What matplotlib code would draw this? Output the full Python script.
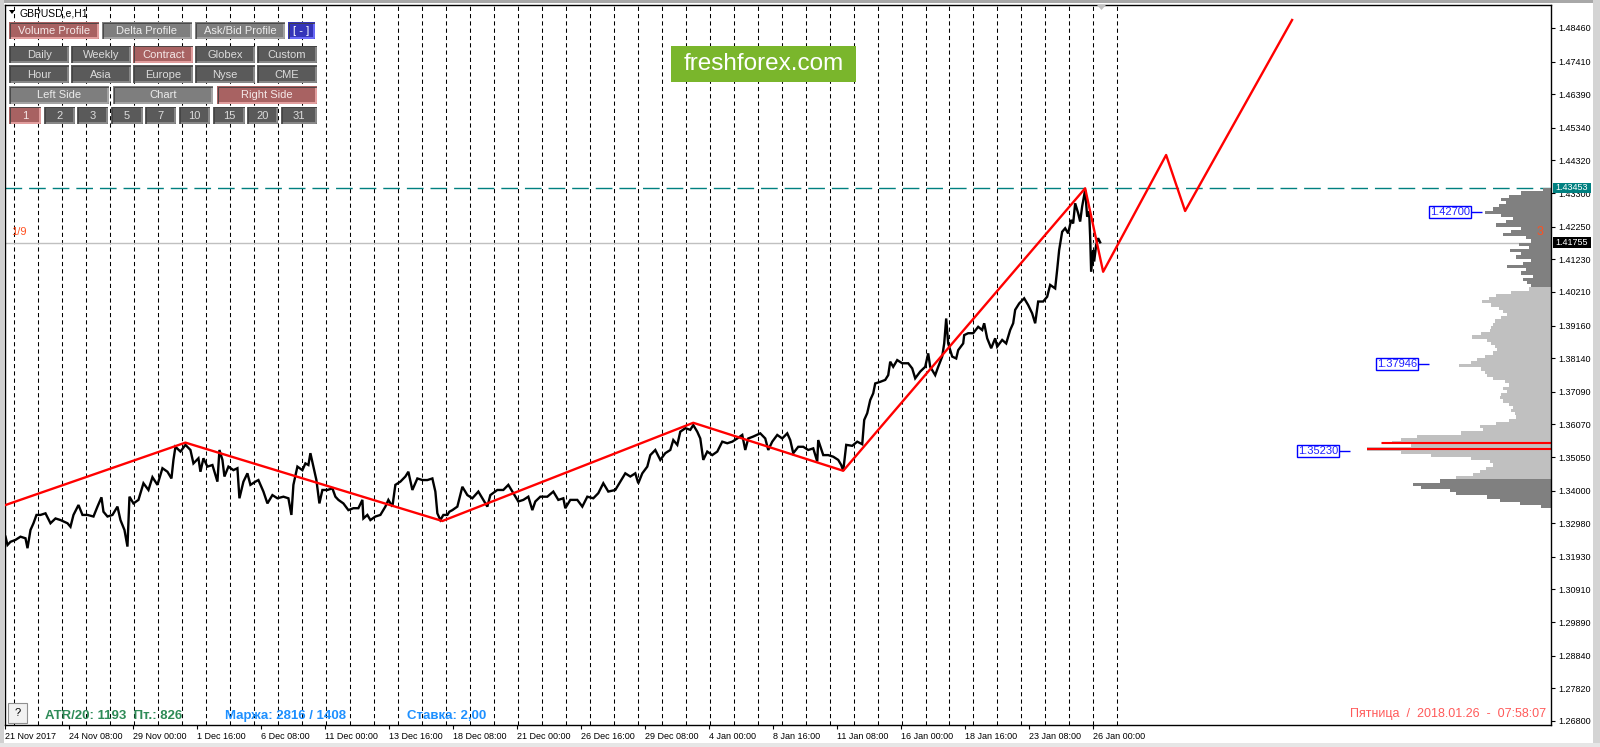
import matplotlib
matplotlib.use('Agg')
import matplotlib.pyplot as plt
from matplotlib.patches import Rectangle, Polygon

plt.rcParams['font.family'] = ['Liberation Sans', 'DejaVu Sans']

# ---------------- data ----------------
symbol = "GBPUSD,e,H1"

# hourly close path (bar index, price)
price_path = [
    (5, 1.3256), (7, 1.3230), (10, 1.3240), (15, 1.3246), (20, 1.3256), (25, 1.3251), (27, 1.3220),
    (30, 1.3277), (33, 1.3298), (36, 1.3324), (40, 1.3324), (45, 1.3329), (50, 1.3298), (55, 1.3313),
    (60, 1.3308), (67, 1.3298), (70, 1.3287), (73, 1.3324), (78, 1.3355), (82, 1.3324), (87, 1.3324),
    (93, 1.3319), (97, 1.3350), (101, 1.3379), (103, 1.3334), (107, 1.3319), (112, 1.3324), (117, 1.3350),
    (120, 1.3308), (124, 1.3277), (127, 1.3225), (129, 1.3381), (133, 1.3360), (138, 1.3371), (143, 1.3423),
    (148, 1.3402), (152, 1.3442), (157, 1.3418), (162, 1.3470), (167, 1.3459), (171, 1.3438), (173, 1.3496),
    (175, 1.3537), (180, 1.3522), (185, 1.3543), (190, 1.3527), (193, 1.3485), (198, 1.3501), (200, 1.3459),
    (203, 1.3501), (207, 1.3475), (212, 1.3480), (217, 1.3428), (219, 1.3527), (222, 1.3496), (224, 1.3444),
    (228, 1.3475), (233, 1.3464), (237, 1.3470), (239, 1.3376), (243, 1.3428), (247, 1.3454), (250, 1.3418),
    (255, 1.3428), (258, 1.3433), (263, 1.3397), (267, 1.3360), (272, 1.3386), (277, 1.3376), (283, 1.3381),
    (288, 1.3376), (291, 1.3324), (293, 1.3418), (297, 1.3475), (302, 1.3464), (305, 1.3485), (308, 1.3480),
    (310, 1.3517), (313, 1.3475), (316, 1.3433), (319, 1.3360), (322, 1.3402), (327, 1.3402), (332, 1.3407),
    (335, 1.3381), (338, 1.3371), (343, 1.3360), (348, 1.3339), (353, 1.3345), (358, 1.3345), (362, 1.3371),
    (363, 1.3313), (367, 1.3324), (370, 1.3308), (375, 1.3319), (380, 1.3324), (385, 1.3350), (388, 1.3371),
    (392, 1.3350), (395, 1.3418), (400, 1.3428), (405, 1.3444), (408, 1.3459), (412, 1.3402), (417, 1.3438),
    (422, 1.3433), (427, 1.3433), (432, 1.3438), (435, 1.3397), (437, 1.3329), (440, 1.3308), (443, 1.3324),
    (447, 1.3324), (449, 1.3334), (452, 1.3339), (457, 1.3350), (462, 1.3412), (467, 1.3386), (472, 1.3376),
    (478, 1.3397), (483, 1.3371), (487, 1.3350), (490, 1.3386), (497, 1.3402), (503, 1.3402), (508, 1.3418),
    (513, 1.3392), (518, 1.3366), (523, 1.3371), (528, 1.3381), (532, 1.3339), (535, 1.3366), (540, 1.3381),
    (547, 1.3381), (553, 1.3397), (558, 1.3371), (563, 1.3376), (565, 1.3345), (570, 1.3371), (577, 1.3371),
    (582, 1.3350), (587, 1.3381), (593, 1.3376), (598, 1.3392), (603, 1.3423), (608, 1.3397), (615, 1.3402),
    (620, 1.3428), (625, 1.3454), (630, 1.3444), (635, 1.3454), (638, 1.3423), (642, 1.3454), (647, 1.3475),
    (650, 1.3511), (655, 1.3527), (660, 1.3496), (665, 1.3517), (670, 1.3527), (673, 1.3558), (677, 1.3543),
    (680, 1.3584), (685, 1.3595), (690, 1.3590), (693, 1.3605), (697, 1.3584), (700, 1.3563), (703, 1.3496),
    (707, 1.3522), (712, 1.3511), (717, 1.3522), (722, 1.3553), (727, 1.3548), (732, 1.3553), (737, 1.3563),
    (742, 1.3574), (745, 1.3527), (748, 1.3563), (753, 1.3569), (760, 1.3579), (765, 1.3563), (768, 1.3527),
    (772, 1.3553), (777, 1.3574), (782, 1.3563), (787, 1.3579), (790, 1.3558), (793, 1.3517), (798, 1.3537),
    (803, 1.3537), (808, 1.3527), (813, 1.3532), (817, 1.3491), (818, 1.3558), (823, 1.3511), (828, 1.3511),
    (833, 1.3506), (838, 1.3496), (841, 1.3480), (843, 1.3462), (846, 1.3543), (852, 1.3540), (857, 1.3553),
    (862, 1.3545), (864, 1.3621), (867, 1.3642), (870, 1.3683), (873, 1.3704), (875, 1.3735), (880, 1.3740),
    (885, 1.3746), (888, 1.3761), (890, 1.3803), (893, 1.3787), (897, 1.3808), (902, 1.3798), (908, 1.3798),
    (912, 1.3782), (915, 1.3751), (920, 1.3772), (925, 1.3787), (928, 1.3829), (930, 1.3787), (935, 1.3761),
    (938, 1.3787), (942, 1.3819), (944, 1.3860), (946, 1.3938), (948, 1.3860), (952, 1.3819), (956, 1.3813),
    (958, 1.3839), (963, 1.3860), (964, 1.3886), (968, 1.3892), (973, 1.3892), (978, 1.3912), (982, 1.3902),
    (984, 1.3923), (987, 1.3876), (991, 1.3845), (995, 1.3876), (997, 1.3850), (1002, 1.3871), (1006, 1.3860),
    (1010, 1.3902), (1013, 1.3923), (1015, 1.3965), (1019, 1.3985), (1024, 1.4001), (1028, 1.3980),
    (1032, 1.3954), (1035, 1.3923), (1038, 1.3991), (1043, 1.3991), (1047, 1.4006), (1050, 1.4043),
    (1055, 1.4032), (1057, 1.4090), (1059, 1.4152), (1062, 1.4209), (1065, 1.4220), (1068, 1.4204),
    (1071, 1.4246), (1073, 1.4235), (1075, 1.4298), (1078, 1.4267), (1080, 1.4241), (1082, 1.4288),
    (1085, 1.4340), (1087, 1.4256), (1089, 1.4272), (1090, 1.4194), (1091, 1.4084), (1093, 1.4152),
    (1094, 1.4116), (1096, 1.4168), (1098, 1.4189), (1100, 1.4176),
]

# red zig-zag forecast (bar index, price)
zigzag_bar = [5, 185, 442, 693, 843, 1085, 1103, 1166, 1185, 1292]
zigzag_price = [1.3355, 1.3550, 1.3305, 1.3612, 1.3462, 1.4345, 1.4084, 1.4449, 1.4274, 1.4871]

resistance_level = 1.43453
current_price = 1.41755

# volume profile (price bin, relative volume in bar widths)
profile = [
    (1.4340, 8), (1.4330, 30), (1.4320, 42), (1.4310, 50), (1.4300, 45), (1.4290, 52), (1.4280, 58),
    (1.4270, 66), (1.4260, 50), (1.4250, 38), (1.4240, 45), (1.4230, 55), (1.4220, 30), (1.4210, 40),
    (1.4200, 48), (1.4190, 25), (1.4180, 20), (1.4170, 32), (1.4160, 22), (1.4150, 41), (1.4140, 30),
    (1.4130, 35), (1.4120, 20), (1.4110, 28), (1.4100, 44), (1.4090, 25), (1.4080, 30), (1.4070, 18),
    (1.4060, 28), (1.4050, 24), (1.4040, 20), (1.4030, 22), (1.4020, 40), (1.4010, 55), (1.4000, 62),
    (1.3990, 69), (1.3980, 60), (1.3970, 52), (1.3960, 48), (1.3950, 44), (1.3940, 50), (1.3930, 56),
    (1.3920, 58), (1.3910, 60), (1.3900, 61), (1.3890, 70), (1.3880, 79), (1.3870, 64), (1.3860, 60),
    (1.3850, 56), (1.3840, 54), (1.3830, 58), (1.3820, 66), (1.3810, 74), (1.3800, 80), (1.3790, 92),
    (1.3780, 70), (1.3770, 66), (1.3760, 64), (1.3750, 58), (1.3740, 46), (1.3730, 42), (1.3720, 48),
    (1.3710, 44), (1.3700, 50), (1.3690, 51), (1.3680, 48), (1.3670, 42), (1.3660, 38), (1.3650, 40),
    (1.3640, 36), (1.3630, 35), (1.3620, 42), (1.3610, 55), (1.3600, 71), (1.3590, 68), (1.3580, 90),
    (1.3570, 134), (1.3560, 150), (1.3550, 159), (1.3540, 140), (1.3530, 184), (1.3520, 150), (1.3510, 120),
    (1.3500, 80), (1.3490, 61), (1.3480, 58), (1.3470, 65), (1.3460, 71), (1.3450, 78), (1.3440, 95),
    (1.3430, 111), (1.3420, 138), (1.3410, 130), (1.3400, 101), (1.3390, 95), (1.3380, 64), (1.3370, 51),
    (1.3360, 31), (1.3350, 10),
]
value_area_low = 1.3435
value_area_high = 1.4031
poc_price = 1.3530
poc2_price = 1.3550
profile_levels = [1.42700, 1.37946, 1.35230]

y_ticks = [1.26800, 1.27820, 1.28840, 1.29890, 1.30910, 1.31930, 1.32980, 1.34000, 1.35050, 1.36070,
           1.37090, 1.38140, 1.39160, 1.40210, 1.41230, 1.42250, 1.43300, 1.44320, 1.45340, 1.46390,
           1.47410, 1.48460]
x_labels = ["21 Nov 2017", "24 Nov 08:00", "29 Nov 00:00", "1 Dec 16:00", "6 Dec 08:00", "11 Dec 00:00",
            "13 Dec 16:00", "18 Dec 08:00", "21 Dec 00:00", "26 Dec 16:00", "29 Dec 08:00", "4 Jan 00:00",
            "8 Jan 16:00", "11 Jan 08:00", "16 Jan 00:00", "18 Jan 16:00", "23 Jan 08:00", "26 Jan 00:00"]
n_days = 47

atr_text = "ATR/20: 1193  Пт.: 826"
margin_text = "Маржа: 2816 / 1408"
rate_text = "Ставка: 2,00"
clock_text = "Пятница  /  2018.01.26  -  07:58:07"

# ---------------- figure ----------------
W, H = 1600, 747
fig = plt.figure(figsize=(16, 7.47), dpi=100)
fig.patch.set_facecolor('white')


def fbox(x0, y0, x1, y1):
    return [x0 / W, 1 - y1 / H, (x1 - x0) / W, (y1 - y0) / H]


X_LEFT, X_RIGHT = 5, 1551
ax = fig.add_axes(fbox(X_LEFT, 4.5, X_RIGHT, 725))
ax.set_xlim(X_LEFT, X_RIGHT)
ax.set_ylim(1.26674, 1.49194)
ax.set_facecolor('white')
for s in ax.spines.values():
    s.set_color('black')
    s.set_linewidth(1)

ax.yaxis.tick_right()
ax.set_yticks(y_ticks)
ax.set_yticklabels([f"{v:.5f}" for v in y_ticks])
ax.tick_params(axis='y', direction='out', length=3, width=0.8, labelsize=6.5, pad=2, colors='black')
x_tick_pos = [4.5 + 64 * k for k in range(len(x_labels))]
ax.set_xticks(x_tick_pos)
ax.set_xticklabels(x_labels)
ax.tick_params(axis='x', direction='out', length=3, width=0.8, labelsize=6.5, pad=2, colors='black')
for t in ax.get_xticklabels():
    t.set_horizontalalignment('left')

# day separators
for k in range(n_days):
    ax.axvline(13.3 + 24 * k, color='black', lw=0.75, ls=(0, (4, 3)), zorder=1)

ax.axhline(current_price, color='#c0c0c0', lw=1, zorder=1.5)
ax.axhline(resistance_level, color='#008080', lw=1, ls=(0, (12, 5)), zorder=1.6)

# volume profile
pp = [p for p, v in profile]
pv = [v for p, v in profile]
cols = ['#c0c0c0' if value_area_low <= p <= value_area_high else '#808080' for p in pp]
ax.barh(pp, pv, left=[X_RIGHT - v for v in pv], height=0.0010, color=cols, linewidth=0, zorder=2)
poc_w = dict(profile)
ax.hlines(poc_price, X_RIGHT - poc_w[poc_price], X_RIGHT, color='red', lw=1.5, zorder=2.5)
ax.hlines([poc2_price - 0.00018, poc2_price + 0.00018], X_RIGHT - 170, X_RIGHT, color='red', lw=0.8, zorder=2.5)

# profile level labels
level_box_x = [1450, 1397, 1318]
for lv, bx in zip(profile_levels, level_box_x):
    ax.hlines(lv, bx + 21, bx + 32, color='blue', lw=1, zorder=5)
    ax.text(bx, lv, f"{lv:.5f}", color='#2020ff', fontsize=8, ha='center', va='center', zorder=6,
            bbox=dict(boxstyle='square,pad=0.1', fc='white', ec='blue', lw=1))

# price and zigzag
bx_ = [b for b, p in price_path]
py_ = [p for b, p in price_path]
ax.plot(bx_, py_, color='black', lw=1.7, zorder=3, solid_joinstyle='miter')
ax.plot(zigzag_bar, zigzag_price, color='red', lw=1.7, zorder=4)

# ---------------- overlay (terminal chrome) ----------------
ov = fig.add_axes([0, 0, 1, 1], zorder=10)
ov.set_xlim(0, W)
ov.set_ylim(H, 0)
ov.axis('off')
ov.patch.set_alpha(0)

# window frame
ov.add_patch(Rectangle((0, 0), W, 3, fc='#a8a8a8', ec='none'))
ov.add_patch(Rectangle((0, 0), 4, H, fc='#d0d0d0', ec='none'))
ov.add_patch(Rectangle((1593, 0), 7, H, fc='#d4d4d4', ec='none'))
ov.add_patch(Rectangle((0, 743), W, 4, fc='#e6e6e6', ec='none'))

# chart shift marker
ov.add_patch(Polygon([[1097, 5], [1106, 5], [1101.5, 10]], closed=True, fc='#c0c0c0', ec='none'))

# right axis price boxes
ov.add_patch(Rectangle((1553, 182.5), 38, 10.5, fc='#008080', ec='none'))
ov.text(1572, 187.8, f"{resistance_level:.5f}", color='white', fontsize=6.5, ha='center', va='center')
ov.add_patch(Rectangle((1553, 237), 38, 10.5, fc='black', ec='none'))
ov.text(1572, 242.3, f"{current_price:.5f}", color='white', fontsize=6.5, ha='center', va='center')

# title
ov.add_patch(Polygon([[9, 10], [15, 10], [12, 14]], closed=True, fc='black', ec='none'))
ov.text(20, 13, symbol, fontsize=7.5, color='black', ha='left', va='center')

# buttons
STY = {
    'red': ('#a86262', '#e8a4a4', '#f4e8e8'),
    'light': ('#7e7e7e', '#a8a8a8', '#ececec'),
    'dark': ('#5a5a5a', '#8c8c8c', '#dcdcdc'),
    'blue': ('#3434b8', '#7070ff', '#ffffff'),
}
buttons = [
    ("Volume Profile", 9, 99, 22, 38.7, 'red'), ("Delta Profile", 102, 192, 22, 38.7, 'light'),
    ("Ask/Bid Profile", 195, 285, 22, 38.7, 'light'), ("[ - ]", 288, 315, 22, 38.7, 'blue'),
    ("Daily", 9.3, 69, 45.7, 62.7, 'dark'), ("Weekly", 71.3, 130.7, 45.7, 62.7, 'dark'),
    ("Contract", 133.3, 193, 45.7, 62.7, 'red'), ("Globex", 195.3, 255, 45.7, 62.7, 'dark'),
    ("Custom", 257.3, 316.7, 45.7, 62.7, 'dark'),
    ("Hour", 9.3, 69, 65.3, 82.7, 'dark'), ("Asia", 71.3, 130.7, 65.3, 82.7, 'dark'),
    ("Europe", 133.3, 193, 65.3, 82.7, 'dark'), ("Nyse", 195.3, 255, 65.3, 82.7, 'dark'),
    ("CME", 257.3, 316.7, 65.3, 82.7, 'dark'),
    ("Left Side", 9.3, 109, 86, 103.7, 'light'), ("Chart", 113.3, 212.7, 86, 103.7, 'light'),
    ("Right Side", 217, 316.7, 86, 103.7, 'red'),
    ("1", 9.3, 41, 106.7, 124, 'red'), ("2", 44, 74.7, 106.7, 124, 'dark'), ("3", 77.3, 108, 106.7, 124, 'dark'),
    ("5", 111.3, 142.7, 106.7, 124, 'dark'), ("7", 145.3, 176, 106.7, 124, 'dark'),
    ("10", 179.3, 210, 106.7, 124, 'dark'), ("15", 213.3, 244.7, 106.7, 124, 'dark'),
    ("20", 247.3, 278, 106.7, 124, 'dark'), ("31", 281.3, 316.7, 106.7, 124, 'dark'),
]
for label, x0, x1, y0, y1, st in buttons:
    face, edge, tc = STY[st]
    ov.add_patch(Rectangle((x0, y0), x1 - x0, y1 - y0, fc=face, ec='none'))
    ov.plot([x0 + 1, x1 - 1, x1 - 1], [y1 - 1, y1 - 1, y0 + 1], color=edge, lw=1.3, solid_capstyle='butt')
    ov.plot([x0 + 0.5, x0 + 0.5, x1 - 1], [y1 - 1, y0 + 0.5, y0 + 0.5], color='#404040', lw=0.6)
    ov.text((x0 + x1) / 2, (y0 + y1) / 2 + 0.5, label, color=tc, fontsize=8, ha='center', va='center')

# logo
ov.add_patch(Rectangle((671, 46), 185, 36, fc='#7ab62c', ec='none'))
ov.text(763.5, 64, "freshforex.com", color='white', fontsize=17.5, ha='center', va='center')

# little markers
ov.text(11, 232, "1/9", color='#ff5020', fontsize=8, ha='left', va='center')
ov.text(1540, 232, "3", color='#ff5020', fontsize=9, ha='center', va='center')

# help button
ov.add_patch(Rectangle((8, 703), 19, 20, fc='#f2f2f2', ec='#909090', lw=0.8))
ov.text(17.5, 713, "?", color='black', fontsize=8, ha='center', va='center')

# status texts
ov.text(45, 716, atr_text, color='#2e8b57', fontsize=9.5, fontweight='bold', ha='left', va='center')
ov.text(225, 716, margin_text, color='#1e90ff', fontsize=9.5, fontweight='bold', ha='left', va='center')
ov.text(407, 716, rate_text, color='#1e90ff', fontsize=9.5, fontweight='bold', ha='left', va='center')
ov.text(1546, 714, clock_text, color='#ff5a5a', fontsize=9, ha='right', va='center')

fig.savefig('out.png', dpi=100, facecolor='white')
